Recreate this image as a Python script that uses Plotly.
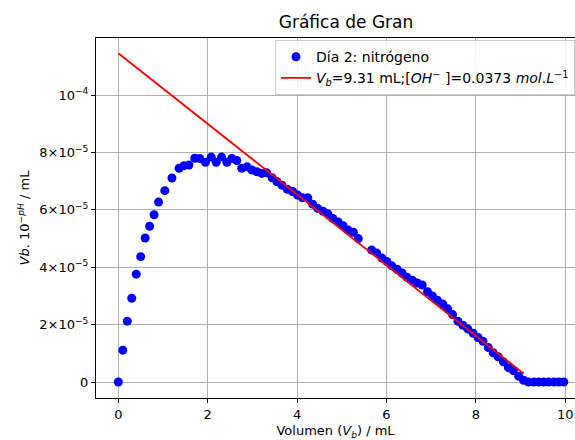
import plotly.graph_objects as go

# Gran titration, day 2 (nitrogen atmosphere): added base volume (mL)
vol_ml = [
    0.0, 0.1, 0.2, 0.3, 0.4, 0.5, 0.6, 0.7, 0.8, 0.9,
    1.04, 1.2, 1.36, 1.47, 1.58, 1.71, 1.82, 1.95, 2.08, 2.19,
    2.31, 2.43, 2.54, 2.65, 2.76, 2.88, 2.99, 3.1, 3.21, 3.32,
    3.44, 3.55, 3.66, 3.78, 3.9, 4.01, 4.12, 4.24, 4.35, 4.46,
    4.58, 4.69, 4.8, 4.92, 5.03, 5.14, 5.26, 5.37, 5.67, 5.78,
    5.9, 6.01, 6.12, 6.24, 6.35, 6.46, 6.58, 6.69, 6.8, 6.92,
    7.03, 7.14, 7.26, 7.37, 7.48, 7.6, 7.71, 7.82, 7.94, 8.05,
    8.16, 8.28, 8.39, 8.5, 8.62, 8.73, 8.84, 8.96, 9.07, 9.18,
    9.3, 9.41, 9.52, 9.63, 9.75, 9.86, 9.97,
]

# Gran function Vb*10^-pH, in units of 1e-5 mL
gran_e5 = [
    0.0, 1.11, 2.12, 2.92, 3.76, 4.37, 5.02, 5.43, 5.83, 6.27,
    6.67, 7.11, 7.45, 7.54, 7.56, 7.8, 7.79, 7.66, 7.84, 7.66,
    7.84, 7.66, 7.79, 7.72, 7.45, 7.5, 7.39, 7.33, 7.27, 7.29,
    7.12, 6.98, 6.86, 6.72, 6.64, 6.52, 6.42, 6.42, 6.2, 6.05,
    5.95, 5.86, 5.7, 5.58, 5.45, 5.3, 5.22, 5.0, 4.6, 4.5,
    4.32, 4.2, 4.05, 3.93, 3.8, 3.65, 3.55, 3.45, 3.38, 3.15,
    3.0, 2.85, 2.72, 2.55, 2.35, 2.12, 1.98, 1.85, 1.7, 1.55,
    1.42, 1.2, 1.02, 0.88, 0.7, 0.5, 0.4, 0.2, 0.06, 0.0,
    0.0, 0.0, 0.0, 0.0, 0.0, 0.0, 0.0,
]

# Linear fit of the Gran plot: y = k * (Vb - V)
vb_eq = 9.31          # equivalence volume, mL
k_fit = 1.231e-5      # slope magnitude
fit_x = [0.0, 9.07]

y_tick_vals = [0, 2e-5, 4e-5, 6e-5, 8e-5, 1e-4]
y_tick_text = ["0", "2×10<sup>−5</sup>", "4×10<sup>−5</sup>",
               "6×10<sup>−5</sup>", "8×10<sup>−5</sup>", "10<sup>−4</sup>"]
x_tick_vals = [0, 2, 4, 6, 8, 10]

gran = [v * 1e-5 for v in gran_e5]
fit_y = [k_fit * (vb_eq - x) for x in fit_x]

FONT = "DejaVu Sans"

fig = go.Figure()
fig.add_trace(go.Scatter(
    x=vol_ml, y=gran, mode="markers",
    marker=dict(color="#0000ff", size=9, line=dict(width=0)),
    name="Día 2: nitrógeno",
))
fig.add_trace(go.Scatter(
    x=fit_x, y=fit_y, mode="lines",
    line=dict(color="#ff0000", width=1.8),
    name="<i>V</i><sub><i>b</i></sub>=9.31 mL;[<i>OH</i><sup>−</sup> ]=0.0373 <i>mol</i>.<i>L</i><sup>−1</sup>",
))

axis_common = dict(
    showgrid=True, gridcolor="#b0b0b0", gridwidth=1,
    showline=True, linecolor="black", linewidth=1,
    ticks="outside", ticklen=4, tickcolor="black",
    tickfont=dict(family=FONT, size=13, color="black"),
    zeroline=False,
)

fig.update_layout(
    width=575, height=440,
    margin=dict(l=96, r=0, t=38, b=42),
    paper_bgcolor="white", plot_bgcolor="white",
    font=dict(family=FONT, color="black"),
    title=dict(text="Gráfica de Gran", x=346 / 575, xanchor="center",
               y=1 - 22 / 440, yanchor="middle",
               font=dict(family=FONT, size=17, color="black")),
    showlegend=True,
    legend=dict(
        x=1.0, xanchor="right", y=0.994, yanchor="top",
        bgcolor="rgba(255,255,255,0.85)", bordercolor="#cccccc", borderwidth=1,
        font=dict(family=FONT, size=14, color="black"),
        tracegroupgap=2, itemwidth=30,
    ),
)
fig.update_xaxes(
    range=[-0.5, 10.22], tickvals=x_tick_vals, mirror=True,
    title=dict(text="Volumen (<i>V</i><sub><i>b</i></sub>) / mL",
               font=dict(family=FONT, size=13, color="black"), standoff=6),
    **axis_common,
)
fig.update_yaxes(
    range=[-0.557e-5, 11.99e-5], tickvals=y_tick_vals, ticktext=y_tick_text,
    title=dict(text="<i>Vb</i>. 10<sup>−<i>pH</i></sup> / mL",
               font=dict(family=FONT, size=13, color="black"), standoff=6),
    **axis_common,
)

fig.write_html("out.html")
